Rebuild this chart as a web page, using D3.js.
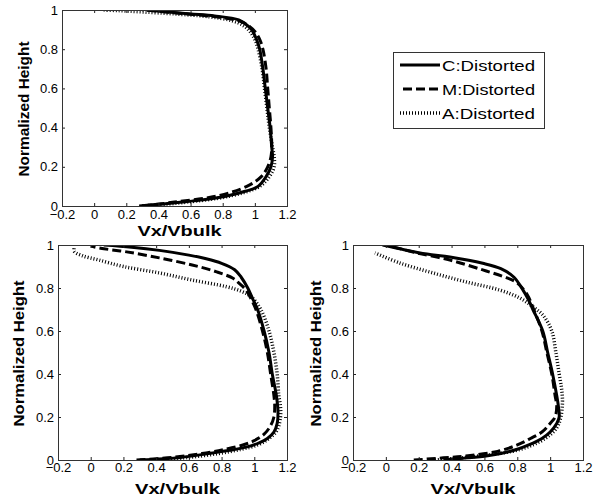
<!DOCTYPE html>
<html>
<head>
<meta charset="utf-8">
<script src="https://cdn.jsdelivr.net/npm/d3@7"></script>
<style>
body { margin: 0; background: #fff; }
text { font-family: "Liberation Sans", Arial, Helvetica, sans-serif; }
</style>
</head>
<body>
<script>
// series names (legend order)
const seriesNames = ["C:Distorted", "M:Distorted", "A:Distorted"];

// tick values
const xTicks = [-0.2, 0, 0.2, 0.4, 0.6, 0.8, 1, 1.2];
const yTicks = [0, 0.2, 0.4, 0.6, 0.8, 1];

// [Vx/Vbulk, Normalized Height]
// top panel
const topC = [[0.28,0],[0.42,0.01],[0.55,0.02],[0.66,0.03],[0.82,0.05],[0.94,0.075],[1.02,0.1],[1.07,0.15],[1.1,0.2],[1.11,0.25],[1.105,0.3],[1.095,0.4],[1.08,0.5],[1.065,0.6],[1.05,0.7],[1.03,0.8],[1.01,0.85],[0.98,0.9],[0.94,0.93],[0.9,0.95],[0.75,0.97],[0.6,0.98],[0.46,0.99],[0.33,1.0]];
const topM = [[0.3,0],[0.5,0.02],[0.76,0.05],[0.95,0.1],[1.04,0.15],[1.08,0.2],[1.1,0.25],[1.105,0.3],[1.1,0.4],[1.09,0.5],[1.08,0.6],[1.07,0.7],[1.05,0.8],[1.03,0.85],[1.0,0.89],[0.96,0.92],[0.9,0.945],[0.76,0.965],[0.6,0.978],[0.45,0.99],[0.3,1.0]];
const topA = [[0.3,0],[0.46,0.01],[0.58,0.02],[0.84,0.05],[1.03,0.1],[1.09,0.15],[1.12,0.2],[1.12,0.25],[1.11,0.3],[1.09,0.4],[1.075,0.5],[1.06,0.6],[1.045,0.7],[1.02,0.8],[1.0,0.85],[0.97,0.89],[0.93,0.92],[0.86,0.945],[0.72,0.965],[0.5,0.98],[0.3,0.99],[0.15,0.997],[0.05,1.0]];

// bottom-left panel
const leftC = [[0.3,0],[0.55,0.012],[0.72,0.03],[0.85,0.045],[0.95,0.06],[1.03,0.08],[1.08,0.1],[1.12,0.13],[1.14,0.17],[1.145,0.22],[1.135,0.3],[1.11,0.4],[1.09,0.5],[1.06,0.6],[1.02,0.7],[0.99,0.75],[0.96,0.8],[0.92,0.85],[0.88,0.885],[0.8,0.915],[0.7,0.937],[0.6,0.953],[0.42,0.975],[0.25,0.99],[0.08,1.0]];
const leftM = [[0.28,0],[0.5,0.012],[0.68,0.03],[0.82,0.05],[0.93,0.07],[1.0,0.09],[1.06,0.12],[1.1,0.16],[1.12,0.2],[1.125,0.25],[1.12,0.3],[1.1,0.4],[1.08,0.5],[1.05,0.6],[1.01,0.7],[0.98,0.75],[0.95,0.79],[0.91,0.82],[0.87,0.845],[0.77,0.875],[0.62,0.907],[0.42,0.94],[0.22,0.968],[0.06,0.985],[0.0,0.995]];
const leftA = [[0.4,0],[0.6,0.012],[0.78,0.03],[0.92,0.05],[1.02,0.07],[1.09,0.1],[1.14,0.14],[1.16,0.2],[1.16,0.25],[1.15,0.3],[1.14,0.4],[1.12,0.5],[1.09,0.6],[1.04,0.7],[0.98,0.76],[0.92,0.785],[0.83,0.806],[0.62,0.837],[0.42,0.87],[0.2,0.9],[0.05,0.93],[-0.05,0.95],[-0.1,0.97],[-0.1,0.99]];

// bottom-right panel
const rightC = [[0.35,0],[0.5,0.01],[0.62,0.02],[0.7,0.03],[0.8,0.05],[0.87,0.07],[0.95,0.1],[1.0,0.13],[1.04,0.17],[1.055,0.2],[1.05,0.25],[1.04,0.3],[1.015,0.4],[0.985,0.5],[0.955,0.6],[0.895,0.7],[0.865,0.75],[0.835,0.79],[0.78,0.85],[0.7,0.89],[0.59,0.915],[0.39,0.944],[0.25,0.958],[0.1,0.98],[-0.02,1.0]];
const rightM = [[0.17,0],[0.35,0.01],[0.5,0.02],[0.68,0.04],[0.8,0.07],[0.88,0.1],[0.95,0.13],[1.0,0.17],[1.03,0.2],[1.04,0.25],[1.03,0.3],[1.01,0.4],[0.98,0.5],[0.95,0.6],[0.9,0.7],[0.86,0.77],[0.8,0.823],[0.737,0.847],[0.59,0.884],[0.39,0.93],[0.19,0.963],[0.05,0.99],[0.0,1.0]];
const rightA = [[0.3,0],[0.58,0.02],[0.82,0.05],[0.97,0.1],[1.04,0.15],[1.065,0.2],[1.075,0.27],[1.07,0.33],[1.055,0.4],[1.035,0.5],[1.01,0.6],[0.96,0.67],[0.9,0.71],[0.816,0.753],[0.695,0.79],[0.49,0.828],[0.287,0.87],[0.086,0.916],[-0.066,0.963]];

// 画布
const svg = d3.select("body").append("svg")
    .attr("width", 598).attr("height", 498);

// line styles per series
const dashes = { "C:Distorted": null, "M:Distorted": "9,4", "A:Distorted": "1,2" };
const widths = { "C:Distorted": 3, "M:Distorted": 3, "A:Distorted": 3.5 };

// subplot boxes
const panels = [
    { id: "p1", x0: 62, x1: 287, y0: 10, y1: 206, data: [topC, topM, topA],
      tickBase: 219, xlabBase: 236, xlabLen: 84, ylabX: 29, ylabLen: 135 },
    { id: "p2", x0: 58, x1: 287, y0: 245, y1: 460, data: [leftC, leftM, leftA],
      tickBase: 472, xlabBase: 494, xlabLen: 85, ylabX: 24, ylabLen: 146 },
    { id: "p3", x0: 353, x1: 583, y0: 245, y1: 460, data: [rightC, rightM, rightA],
      tickBase: 472, xlabBase: 494, xlabLen: 85, ylabX: 321, ylabLen: 146 }
];

const fmt = d => d3.format("")(d);

panels.forEach(p => {
    let x = d3.scaleLinear().domain([-0.2, 1.2]).range([p.x0, p.x1]);
    let y = d3.scaleLinear().domain([0, 1]).range([p.y1, p.y0]);

    // clip
    svg.append("clipPath").attr("id", "clip-" + p.id)
        .append("rect")
        .attr("x", p.x0).attr("y", p.y0)
        .attr("width", p.x1 - p.x0).attr("height", p.y1 - p.y0);

    // curves
    let line = d3.line()
        .x(d => x(d[0]))
        .y(d => y(d[1]))
        .curve(d3.curveCatmullRom.alpha(0.5));
    let gLines = svg.append("g").attr("clip-path", "url(#clip-" + p.id + ")");
    p.data.forEach((s, i) => {
        let name = seriesNames[i];
        gLines.append("path")
            .datum(s)
            .attr("d", line)
            .attr("fill", "none")
            .attr("stroke", "#000")
            .attr("stroke-width", widths[name])
            .attr("stroke-dasharray", dashes[name]);
    });

    // 坐标轴 (ticks point inward on all four sides)
    let gx = svg.append("g")
        .attr("transform", `translate(0,${p.y1})`)
        .call(d3.axisBottom(x).tickValues(xTicks).tickFormat(fmt).tickSize(-3));
    let gxt = svg.append("g")
        .attr("transform", `translate(0,${p.y0})`)
        .call(d3.axisTop(x).tickValues(xTicks).tickFormat("").tickSize(-3));
    let gy = svg.append("g")
        .attr("transform", `translate(${p.x0},0)`)
        .call(d3.axisLeft(y).tickValues(yTicks).tickFormat(fmt).tickSize(-3).tickPadding(4));
    let gyr = svg.append("g")
        .attr("transform", `translate(${p.x1},0)`)
        .call(d3.axisRight(y).tickValues(yTicks).tickFormat("").tickSize(-3));
    [gx, gxt, gy, gyr].forEach(g => {
        g.select(".domain").remove();
        g.selectAll("line").attr("stroke", "#222");
        g.selectAll("text")
            .attr("fill", "#000")
            .style("font-family", '"Liberation Sans", Arial, sans-serif')
            .style("font-size", "13px");
    });
    gx.selectAll("text").attr("dy", null).attr("y", p.tickBase - p.y1);

    // box
    svg.append("rect")
        .attr("x", p.x0 + 0.5).attr("y", p.y0 + 0.5)
        .attr("width", p.x1 - p.x0).attr("height", p.y1 - p.y0)
        .attr("fill", "none").attr("stroke", "#333");

    // labels
    svg.append("text")
        .attr("x", (p.x0 + p.x1) / 2 + 5)
        .attr("y", p.xlabBase)
        .attr("text-anchor", "middle")
        .attr("textLength", p.xlabLen)
        .attr("lengthAdjust", "spacingAndGlyphs")
        .style("font-size", "14px").style("font-weight", "bold")
        .text("Vx/Vbulk");
    svg.append("text")
        .attr("transform", `translate(${p.ylabX},${(p.y0 + p.y1) / 2 + 1}) rotate(-90)`)
        .attr("text-anchor", "middle")
        .attr("textLength", p.ylabLen)
        .attr("lengthAdjust", "spacingAndGlyphs")
        .style("font-size", "14px").style("font-weight", "bold")
        .text("Normalized Height");
});

// 图例
let legend = svg.append("g").attr("class", "legend");
legend.append("rect")
    .attr("x", 393.5).attr("y", 52.5)
    .attr("width", 151).attr("height", 76)
    .attr("fill", "#fff").attr("stroke", "#333");
let rowY = d3.scalePoint().domain(seriesNames).range([65, 113]);
seriesNames.forEach(name => {
    legend.append("line")
        .attr("x1", name === "M:Distorted" ? 403 : 400).attr("x2", 440)
        .attr("y1", rowY(name)).attr("y2", rowY(name))
        .attr("stroke", "#000")
        .attr("stroke-width", widths[name])
        .attr("stroke-dasharray", dashes[name]);
    legend.append("text")
        .attr("x", 442).attr("y", rowY(name) + 5.5)
        .attr("textLength", 93)
        .attr("lengthAdjust", "spacingAndGlyphs")
        .style("font-size", "15px")
        .text(name);
});
</script>
</body>
</html>
